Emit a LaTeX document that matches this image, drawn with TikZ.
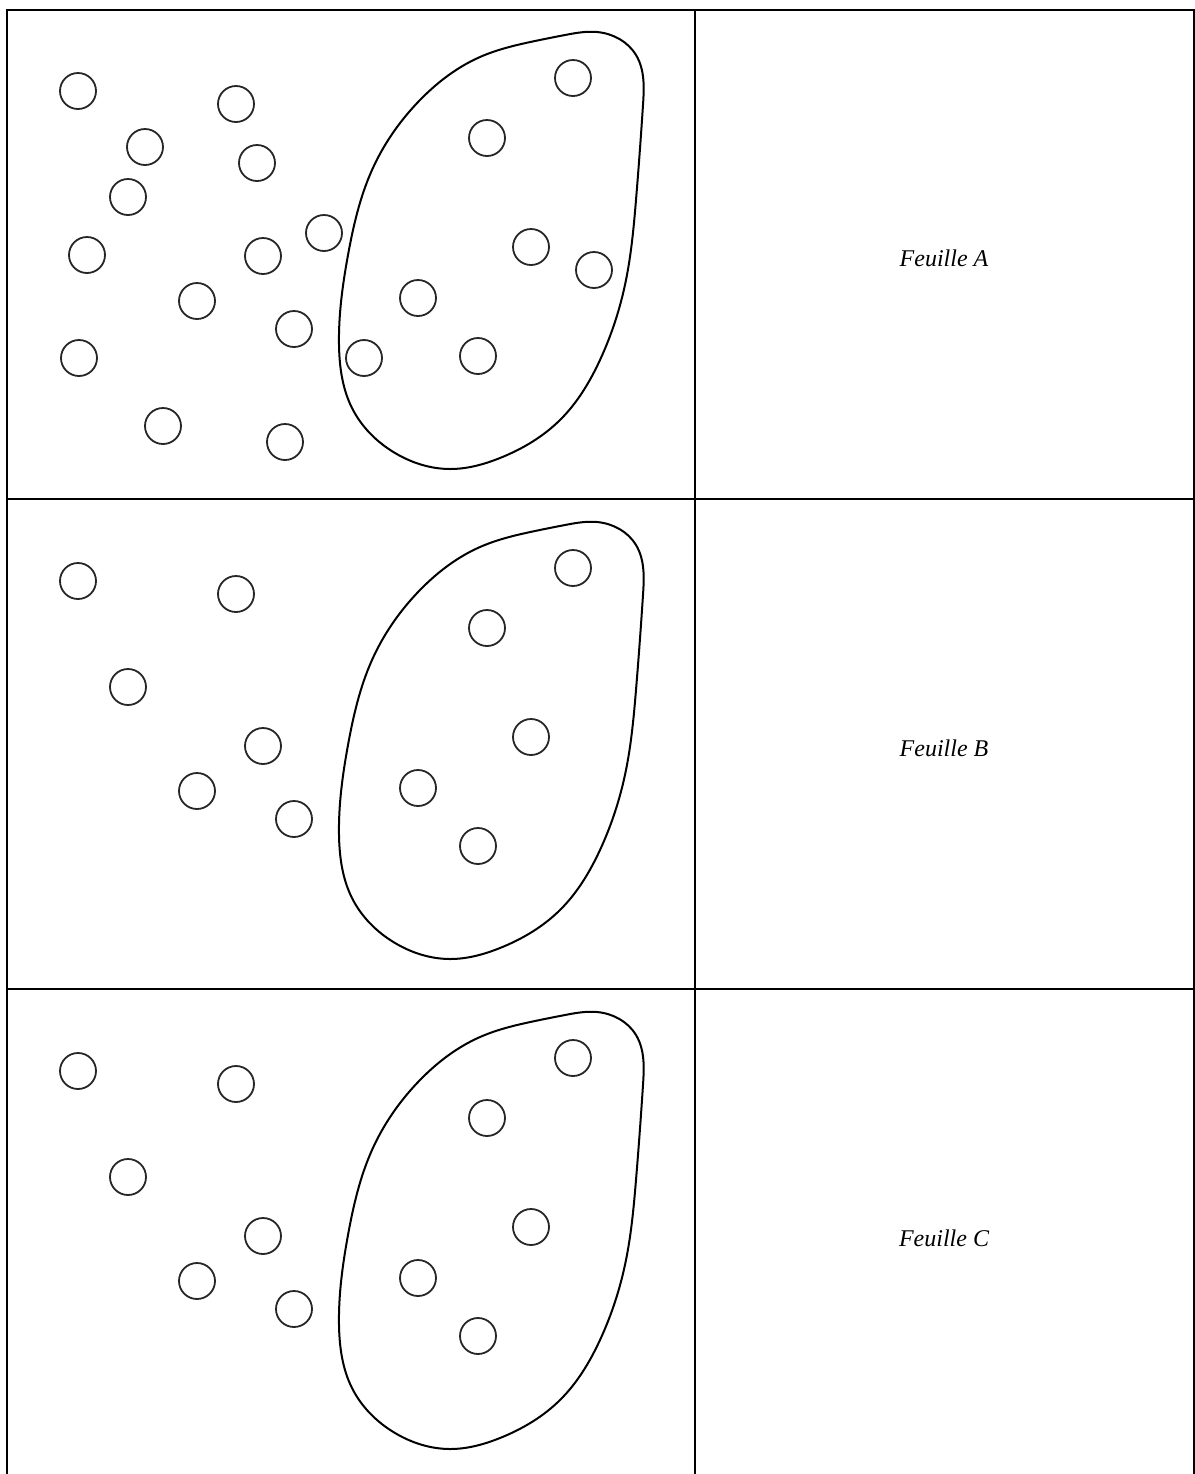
\documentclass[tikz,border=0pt]{standalone}
\usepackage{fontspec}
\setmainfont{Liberation Serif}
\usetikzlibrary{hobby}

\begin{document}
\begin{tikzpicture}[x=0.5pt, y=-0.5pt,
  token/.style={draw, circle, minimum size=18pt, inner sep=0pt, line width=0.9pt, black!85},
  potato/.style={line width=1pt},
  tablerule/.style={line width=1.1pt},
  sheet/.style={font=\fontsize{12}{14}\selectfont\itshape},
]
  \useasboundingbox (0,0) rectangle (1195,1474);

  % Table
  \draw[tablerule] (7,1479) -- (7,10) -- (1194,10) -- (1194,1479);
  \draw[tablerule] (695,10) -- (695,1479);
  \draw[tablerule] (7,499) -- (1194,499);
  \draw[tablerule] (7,989) -- (1194,989);

  % Feuille A
  \begin{scope}
    \draw[potato] plot[closed hobby] coordinates {
      (597,32) (636,55) (643,105) (636,200) (626,280) (600,360)
      (560,420) (500,458) (450,469) (395,453) (352,408) (339,345)
      (348,255) (372,170) (420,100) (480,57) (535,41) (565,35)};
    \node[token] (a1) at (78,91) {};
    \node[token] (a2) at (236,104) {};
    \node[token] (a3) at (145,147) {};
    \node[token] (a4) at (257,163) {};
    \node[token] (a5) at (128,197) {};
    \node[token] (a6) at (324,233) {};
    \node[token] (a7) at (87,255) {};
    \node[token] (a8) at (263,256) {};
    \node[token] (a9) at (197,301) {};
    \node[token] (a10) at (294,329) {};
    \node[token] (a11) at (79,358) {};
    \node[token] (a12) at (163,426) {};
    \node[token] (a13) at (285,442) {};
    \node[token] (a14) at (573,78) {};
    \node[token] (a15) at (487,138) {};
    \node[token] (a16) at (531,247) {};
    \node[token] (a17) at (594,270) {};
    \node[token] (a18) at (418,298) {};
    \node[token] (a19) at (364,358) {};
    \node[token] (a20) at (478,356) {};
    \node[sheet] (feuilleA) at (944,258) {Feuille A};
  \end{scope}

  % Feuille B
  \begin{scope}[yshift=-245pt]
    \draw[potato] plot[closed hobby] coordinates {
      (597,32) (636,55) (643,105) (636,200) (626,280) (600,360)
      (560,420) (500,458) (450,469) (395,453) (352,408) (339,345)
      (348,255) (372,170) (420,100) (480,57) (535,41) (565,35)};
    \node[token] (b1) at (78,91) {};
    \node[token] (b2) at (236,104) {};
    \node[token] (b3) at (128,197) {};
    \node[token] (b4) at (263,256) {};
    \node[token] (b5) at (197,301) {};
    \node[token] (b6) at (294,329) {};
    \node[token] (b7) at (573,78) {};
    \node[token] (b8) at (487,138) {};
    \node[token] (b9) at (531,247) {};
    \node[token] (b10) at (418,298) {};
    \node[token] (b11) at (478,356) {};
    \node[sheet] (feuilleB) at (944,258) {Feuille B};
  \end{scope}

  % Feuille C
  \begin{scope}[yshift=-490pt]
    \draw[potato] plot[closed hobby] coordinates {
      (597,32) (636,55) (643,105) (636,200) (626,280) (600,360)
      (560,420) (500,458) (450,469) (395,453) (352,408) (339,345)
      (348,255) (372,170) (420,100) (480,57) (535,41) (565,35)};
    \node[token] (c1) at (78,91) {};
    \node[token] (c2) at (236,104) {};
    \node[token] (c3) at (128,197) {};
    \node[token] (c4) at (263,256) {};
    \node[token] (c5) at (197,301) {};
    \node[token] (c6) at (294,329) {};
    \node[token] (c7) at (573,78) {};
    \node[token] (c8) at (487,138) {};
    \node[token] (c9) at (531,247) {};
    \node[token] (c10) at (418,298) {};
    \node[token] (c11) at (478,356) {};
    \node[sheet] (feuilleC) at (944,258) {Feuille C};
  \end{scope}
\end{tikzpicture}
\end{document}
